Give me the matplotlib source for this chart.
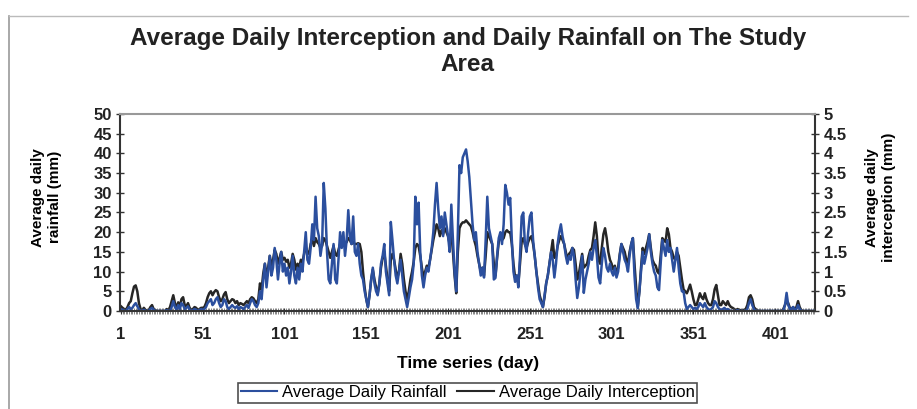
import numpy as np
import matplotlib.pyplot as plt
from matplotlib.lines import Line2D

plt.rcParams['font.family'] = ['Liberation Sans', 'DejaVu Sans']

# Average daily rainfall (mm), days 1..425
rain = [
    0.5, 0.3, 0, 0, 0.5, 1, 0.5, 0.8, 1.5, 2, 1.2, 0.5, 0, 0, 0.3, 0, 0, 0, 0.5, 0.8, 0.3, 0, 0, 0, 0,
    0, 0, 0, 0.2, 0, 0, 1, 2.5, 1, 0.3, 1.5, 0.5, 2, 1.5, 0.5, 0.8, 1.2, 0.3, 0, 0.2, 0.5, 0.3, 0, 0.2, 0.5,
    0.3, 0.5, 1, 2, 2.5, 3, 1.5, 2, 3, 3.5, 2, 1, 1.5, 3, 2.5, 1, 0.5, 1, 1.5, 1, 0.8, 1.2, 0.5, 1, 0.8,
    0.5, 1, 1.5, 0.8, 2, 3, 2.5, 1.5, 1, 2, 5, 3, 8, 12, 6, 10, 14, 9, 11, 16, 13, 8, 12, 15, 10,
    12, 9, 11, 7, 10, 14, 9, 7, 11, 8, 12, 10, 15, 20, 13, 12, 16, 22, 18, 29, 21, 19, 14, 17, 32.5,
    26, 15, 8, 7, 12, 17, 8, 7, 13, 20, 16, 20, 14, 18, 25.6, 19, 17, 24, 15, 14, 17, 12, 9, 8, 5,
    3, 1, 4, 8, 11, 7, 5, 4, 7, 12, 14, 17, 10, 7, 4, 22.6, 18, 13, 9, 7, 10, 13, 9, 5, 3,
    1, 3.4, 6, 8, 12, 29, 22, 27.5, 15, 9, 6, 9, 11, 10, 13, 16, 20, 27, 32.5, 26, 21, 24, 19, 25, 22,
    19, 15, 27, 18, 10, 5, 20, 37, 35, 39, 40, 41, 38, 34, 28, 22, 18, 20, 15, 12, 9, 11, 8.5, 18, 29,
    21, 19, 17, 8, 8.4, 14, 18.5, 20, 17, 22, 32, 30, 27, 28.7, 18, 10, 7.4, 9, 6, 14, 24, 25, 17, 15, 20,
    24, 25, 18, 14, 10, 6, 3, 2, 1, 4, 7, 9, 12, 15, 13, 8.5, 12, 17, 20, 22, 19, 17, 14, 12, 14,
    13, 16, 14, 8, 3.3, 6, 10, 14, 4.6, 8, 10, 12, 15, 13, 16, 18, 14, 8.5, 7, 12, 16, 14, 11, 10, 12,
    10, 9, 11, 8.5, 10, 14, 17, 15, 13, 12, 10, 14, 17, 18.5, 9, 3, 0.7, 5, 10, 15, 12, 14, 16, 19.5, 15,
    12, 10, 9, 6, 5.3, 12, 18, 16, 14, 18, 15, 16, 13, 10, 13, 16, 11, 7, 5, 5, 2, 0.5, 1, 1.5, 1,
    0.5, 0.8, 0.5, 1, 2, 1.5, 1, 2, 1, 0.5, 0.3, 0.5, 1, 2.5, 2, 1, 0.5, 0.3, 0.5, 0.8, 0.3, 0.5, 0.2, 0, 0,
    0, 0, 0.2, 0, 0, 0, 0, 0, 0.5, 2, 3, 1.5, 0.5, 0, 0, 0, 0, 0, 0, 0, 0, 0, 0, 0, 0,
    0, 0, 0, 0, 0, 0, 1.5, 4.6, 1.5, 0.5, 0.5, 1, 0.3, 0.5, 1.5, 0.5, 0, 0, 0, 0, 0, 0, 0, 0, 0,
]

# Average daily interception (mm), days 1..425
interception = [
    0.12, 0.08, 0.05, 0.03, 0.1, 0.2, 0.25, 0.45, 0.62, 0.65, 0.5, 0.2, 0.05, 0.02, 0.08, 0.03, 0, 0.02, 0.1, 0.15, 0.05, 0.02, 0, 0, 0,
    0, 0, 0, 0.05, 0.02, 0.1, 0.25, 0.4, 0.2, 0.08, 0.22, 0.12, 0.3, 0.35, 0.15, 0.12, 0.2, 0.08, 0.03, 0.05, 0.1, 0.08, 0.02, 0.05, 0.08,
    0.08, 0.1, 0.2, 0.35, 0.45, 0.5, 0.4, 0.48, 0.53, 0.5, 0.35, 0.25, 0.3, 0.42, 0.48, 0.3, 0.2, 0.25, 0.3, 0.28, 0.2, 0.25, 0.15, 0.2, 0.18,
    0.15, 0.2, 0.25, 0.2, 0.3, 0.35, 0.32, 0.25, 0.2, 0.3, 0.7, 0.55, 0.95, 1.2, 0.9, 1.1, 1.4, 1.15, 1.3, 1.55, 1.45, 1.2, 1.35, 1.5, 1.3,
    1.35, 1.25, 1.3, 1.1, 1.2, 1.45, 1.3, 1.05, 1.2, 1.1, 1.3, 1.25, 1.45, 1.6, 1.5, 1.45, 1.7, 1.8, 1.65, 1.85, 1.75, 1.7, 1.6, 1.65, 1.85,
    1.8, 1.65, 1.5, 1.35, 1.5, 1.65, 1.45, 1.4, 1.55, 1.7, 1.65, 1.75, 1.7, 1.75, 1.85, 1.8, 1.7, 1.75, 1.7, 1.7, 1.72, 1.7, 1.5, 1.0, 0.6,
    0.3, 0.1, 0.4, 0.8, 1.05, 0.8, 0.6, 0.45, 0.7, 1.1, 1.35, 1.5, 1.15, 0.8, 0.5, 1.3, 1.45, 1.3, 1.05, 0.85, 1.0, 1.45, 1.2, 0.8, 0.5,
    0.3, 0.5, 0.8, 1.0, 1.25, 1.6, 1.7, 1.65, 1.4, 1.1, 0.85, 1.0, 1.15, 1.1, 1.3, 1.55, 1.8, 2.0, 2.2, 2.1, 1.9, 2.05, 1.95, 2.1, 2.0,
    1.9, 1.7, 2.0, 1.5, 0.9, 0.45, 1.5, 2.1, 2.2, 2.25, 2.25, 2.3, 2.25, 2.2, 2.15, 2.0, 1.8, 1.65, 1.4, 1.2, 1.0, 1.1, 0.9, 1.4, 2.0,
    1.9, 1.8, 1.7, 1.2, 0.9, 1.35, 1.75, 1.9, 1.8, 1.85, 2.0, 2.05, 2.0, 2.0, 1.7, 1.2, 0.85, 0.9, 0.7, 1.2, 1.75, 1.85, 1.7, 1.6, 1.75,
    1.85, 1.9, 1.7, 1.4, 1.0, 0.7, 0.4, 0.25, 0.1, 0.35, 0.7, 0.9, 1.2, 1.5, 1.8, 1.35, 1.4, 1.65, 1.8, 1.9, 1.8, 1.7, 1.5, 1.3, 1.45,
    1.5, 1.6, 1.55, 1.2, 0.8, 0.95, 1.2, 1.45, 1.1, 1.15, 1.2, 1.4, 1.55, 1.6, 1.9, 2.25, 1.9, 1.3, 1.2, 1.6, 1.95, 2.1, 1.85, 1.5, 1.3,
    1.2, 1.05, 1.15, 0.95, 1.1, 1.45, 1.7, 1.6, 1.5, 1.3, 1.2, 1.5, 1.7, 1.85, 1.2, 0.6, 0.1, 0.5, 1.1, 1.6, 1.45, 1.6, 1.75, 1.95, 1.6,
    1.3, 1.2, 1.15, 1.0, 0.95, 1.4, 1.85, 1.8, 1.75, 2.1, 1.95, 1.6, 1.5, 1.35, 1.3, 1.5, 1.4, 1.1, 0.8, 0.55, 0.5, 0.45, 0.55, 0.67, 0.5,
    0.3, 0.15, 0.15, 0.3, 0.45, 0.35, 0.3, 0.45, 0.3, 0.2, 0.15, 0.15, 0.3, 0.55, 0.66, 0.4, 0.15, 0.15, 0.25, 0.2, 0.15, 0.25, 0.15, 0.1, 0.08,
    0.05, 0.02, 0.05, 0.03, 0.02, 0.02, 0.03, 0.05, 0.15, 0.35, 0.4, 0.3, 0.1, 0.05, 0.02, 0, 0, 0, 0, 0, 0, 0, 0, 0, 0,
    0, 0, 0, 0, 0, 0.05, 0.15, 0.25, 0.2, 0.08, 0.05, 0.1, 0.05, 0.1, 0.25, 0.1, 0.02, 0, 0, 0, 0, 0, 0, 0, 0,
]

xtick_labels = [1, 51, 101, 151, 201, 251, 301, 351, 401]

days = np.arange(1, len(rain) + 1)

blue = '#2b4f9e'
dark = '#262626'

fig = plt.figure(figsize=(9.17, 4.09), dpi=100)
ax = fig.add_axes([0.131, 0.2396, 0.758, 0.4817])
ax2 = ax.twinx()

ax.plot(days, rain, color=blue, lw=1.8, zorder=2)
ax2.plot(np.arange(1, len(interception) + 1), interception, color=dark, lw=1.8, zorder=3)
ax.set_zorder(ax2.get_zorder() + 1)
ax.patch.set_visible(False)

ax.set_xlim(0.5, len(rain) + 0.5)
ax.set_ylim(0, 50)
ax2.set_ylim(0, 5)
ax.set_yticks(np.arange(0, 51, 5))
ax2.set_yticks(np.arange(0, 5.01, 0.5))
ax2.set_yticklabels(['0', '0.5', '1', '1.5', '2', '2.5', '3', '3.5', '4', '4.5', '5'])
ax.set_xticks(xtick_labels)
ax.set_xticks(days, minor=True)

for a in (ax, ax2):
    for lab in a.get_yticklabels() + a.get_xticklabels():
        lab.set_fontsize(12)
        lab.set_fontweight('bold')
        lab.set_color('#222222')
ax.tick_params(axis='y', direction='inout', length=6, width=1, pad=3, colors='#333333', labelcolor='#222222')
ax2.tick_params(axis='y', direction='inout', length=6, width=1, pad=3, colors='#333333', labelcolor='#222222')
ax.tick_params(axis='x', which='major', direction='inout', length=5, width=0.8, pad=9, colors='#333333', labelcolor='#222222')
ax.tick_params(axis='x', which='minor', direction='inout', length=4, width=0.5, colors='#555555')

for s in ('left', 'bottom'):
    ax.spines[s].set_color('#333333')
    ax.spines[s].set_linewidth(1.5)
ax.spines['right'].set_visible(False)
ax.spines['top'].set_color('#999999')
ax.spines['top'].set_linewidth(1.5)
ax2.spines['right'].set_color('#333333')
ax2.spines['right'].set_linewidth(1.5)
for s in ('left', 'top', 'bottom'):
    ax2.spines[s].set_visible(False)

ax.set_xlabel('Time series (day)', fontsize=12.5, fontweight='bold', labelpad=10)
fig.text(0.051, 0.518, 'Average daily\nrainfall (mm)', rotation=90, ha='center', va='center',
         fontsize=11, fontweight='bold', linespacing=1.3)
fig.text(0.960, 0.518, 'Average daily\ninterception (mm)', rotation=90, ha='center', va='center',
         fontsize=11, fontweight='bold', linespacing=1.3)

fig.text(0.51, 0.907, 'Average Daily Interception and Daily Rainfall on The Study',
         ha='center', va='center', fontsize=17.5, fontweight='bold', color='#222222')
fig.text(0.51, 0.843, 'Area', ha='center', va='center', fontsize=17.5, fontweight='bold', color='#222222')

handles = [Line2D([], [], color=blue, lw=1.5), Line2D([], [], color=dark, lw=1.5)]
leg = fig.legend(handles, ['Average Daily Rainfall', 'Average Daily Interception'],
                 loc='upper center', bbox_to_anchor=(0.51, 0.064), ncol=2, frameon=True,
                 fancybox=False, edgecolor='#222222', fontsize=12, handlelength=2.2,
                 handletextpad=0.3, columnspacing=0.6, borderpad=0.15,
                 borderaxespad=0)
leg.get_frame().set_linewidth(1.2)

# outer chart frame
fig.add_artist(Line2D([0.01, 0.01], [0, 0.96], transform=fig.transFigure, color='#999999', lw=1.2))
fig.add_artist(Line2D([0.01, 0.99], [0.96, 0.96], transform=fig.transFigure, color='#bbbbbb', lw=1.0))

fig.savefig('out.png', dpi=100)
